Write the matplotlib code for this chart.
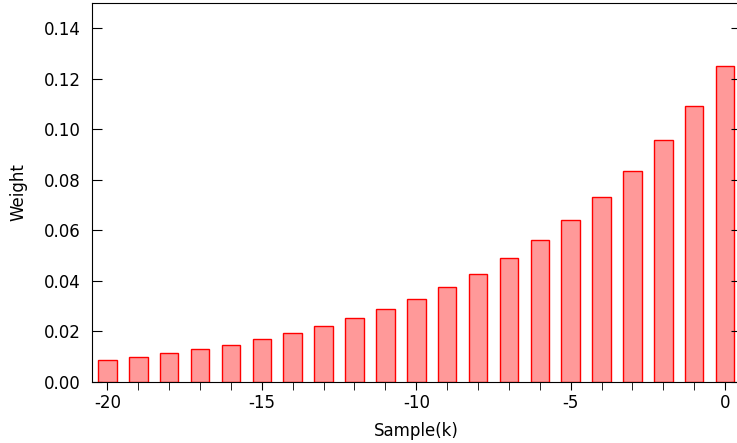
import matplotlib
matplotlib.use("Agg")
import matplotlib.pyplot as plt

samples = [-20, -19, -18, -17, -16, -15, -14, -13, -12, -11, -10,
           -9, -8, -7, -6, -5, -4, -3, -2, -1, 0]
weights = [0.0087, 0.0099, 0.0113, 0.0129, 0.0148, 0.0169, 0.0193, 0.0220,
           0.0252, 0.0288, 0.0329, 0.0376, 0.0429, 0.0491, 0.0561, 0.0641,
           0.0733, 0.0837, 0.0957, 0.1094, 0.1250]
xticks = [-20, -15, -10, -5, 0]
xtick_labels = ["-20", "-15", "-10", "-5", "0"]
yticks = [0.00, 0.02, 0.04, 0.06, 0.08, 0.10, 0.12, 0.14]

W, H = 737, 443
fig = plt.figure(figsize=(W / 100, H / 100), dpi=100)
left, right, top, bottom = 92, 740.5, 3, 382
ax = fig.add_axes([left / W, 1 - bottom / H, (right - left) / W, (bottom - top) / H])

ax.bar(samples, weights, width=0.6, color="#ff9999", edgecolor="red", linewidth=1)

ax.set_xlim(-20.5, 0.5)
ax.set_ylim(0, 0.15)
ax.set_xticks(samples, minor=True)
ax.set_xticks(xticks)
ax.set_xticklabels(xtick_labels)
ax.set_yticks(yticks)
ax.set_yticklabels([f"{v:.2f}" for v in yticks])

ax.tick_params(axis="x", which="both", direction="out", length=6, pad=3, labelsize=12)
ax.tick_params(axis="y", direction="in", length=7, pad=8, right=True, labelsize=12)

ax.set_xlabel("Sample(k)", fontsize=12, labelpad=6.5)
ax.set_ylabel("Weight", fontsize=12, labelpad=12)

fig.savefig("out.png", dpi=100)
